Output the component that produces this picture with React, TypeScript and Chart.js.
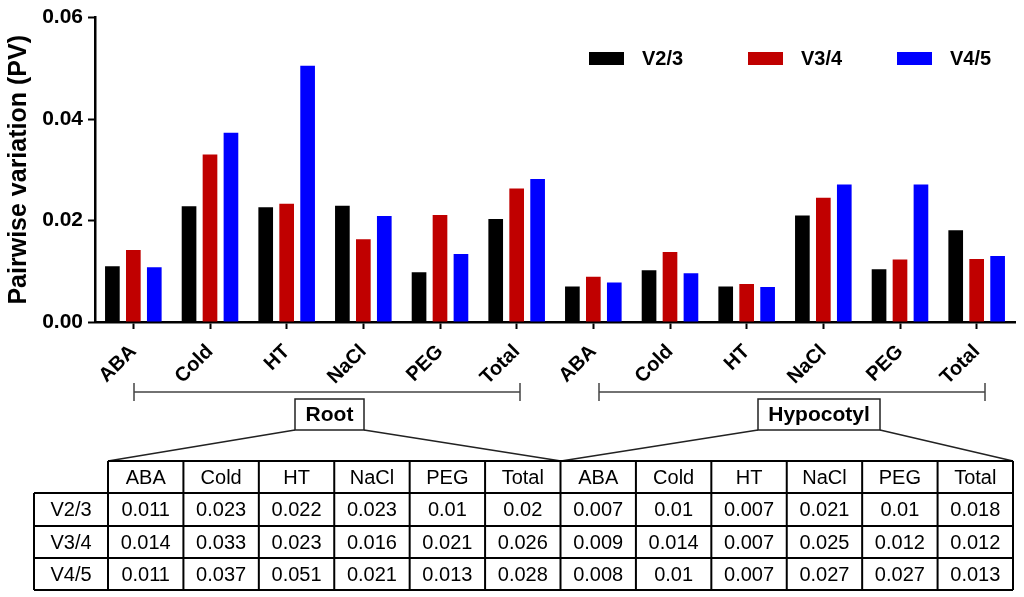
import React, { useEffect, useRef } from "react";
import { Chart, registerables } from "chart.js";

Chart.register(...registerables);

// chart data
const categories = ["ABA", "Cold", "HT", "NaCl", "PEG", "Total", "ABA", "Cold", "HT", "NaCl", "PEG", "Total"];
const seriesNames = ["V2/3", "V3/4", "V4/5"];
const v23 = [0.011, 0.0228, 0.0226, 0.0229, 0.0098, 0.0203, 0.007, 0.0102, 0.007, 0.021, 0.0104, 0.0181];
const v34 = [0.0142, 0.033, 0.0233, 0.0163, 0.0211, 0.0263, 0.0089, 0.0138, 0.0075, 0.0245, 0.0123, 0.0124];
const v45 = [0.0108, 0.0373, 0.0505, 0.0209, 0.0134, 0.0282, 0.0078, 0.0096, 0.0069, 0.0271, 0.0271, 0.013];
const yTicks = [0, 0.02, 0.04, 0.06];
const tissues = ["Root", "Hypocotyl"];

// table printed under the chart
const tableHeader = ["ABA", "Cold", "HT", "NaCl", "PEG", "Total", "ABA", "Cold", "HT", "NaCl", "PEG", "Total"];
const tableV23 = ["0.011", "0.023", "0.022", "0.023", "0.01", "0.02", "0.007", "0.01", "0.007", "0.021", "0.01", "0.018"];
const tableV34 = ["0.014", "0.033", "0.023", "0.016", "0.021", "0.026", "0.009", "0.014", "0.007", "0.025", "0.012", "0.012"];
const tableV45 = ["0.011", "0.037", "0.051", "0.021", "0.013", "0.028", "0.008", "0.01", "0.007", "0.027", "0.027", "0.013"];

const colors = ["#000000", "#c00000", "#0000ff"];
const FONT = "'Liberation Sans', Arial, sans-serif";

const extras = {
    id: "extras",
    afterDraw(chart: Chart) {
        const ctx = chart.ctx;
        ctx.save();

        // legend
        const legendX = [589, 748, 897];
        ctx.font = `bold 20px ${FONT}`;
        ctx.textBaseline = "middle";
        ctx.textAlign = "left";
        seriesNames.forEach((name, i) => {
            ctx.fillStyle = colors[i];
            ctx.fillRect(legendX[i], 52, 35, 13);
            ctx.fillStyle = "#000";
            ctx.fillText(name, legendX[i] + 53, 59);
        });

        // brackets under the axis
        const brackets = [
            [134, 520],
            [599, 985],
        ];
        ctx.strokeStyle = "#444";
        ctx.lineWidth = 1.5;
        brackets.forEach(([a, b]) => {
            ctx.beginPath();
            ctx.moveTo(a, 392);
            ctx.lineTo(b, 392);
            ctx.moveTo(a, 383);
            ctx.lineTo(a, 401);
            ctx.moveTo(b, 383);
            ctx.lineTo(b, 401);
            ctx.stroke();
        });

        // tissue boxes and the lines down to the table
        const boxes = [
            { x: 295, w: 69, to: [108, 561] },
            { x: 758, w: 122, to: [561, 1013] },
        ];
        ctx.strokeStyle = "#222";
        ctx.lineWidth = 1.5;
        ctx.font = `bold 21px ${FONT}`;
        ctx.textAlign = "center";
        boxes.forEach((b, i) => {
            ctx.strokeRect(b.x, 399, b.w, 31);
            ctx.fillStyle = "#000";
            ctx.fillText(tissues[i], b.x + b.w / 2, 415);
            ctx.beginPath();
            ctx.moveTo(b.x, 430);
            ctx.lineTo(b.to[0], 461);
            ctx.moveTo(b.x + b.w, 430);
            ctx.lineTo(b.to[1], 461);
            ctx.stroke();
        });

        // table
        const left = 34;
        const colStart = 108;
        const colW = (1013 - 108) / 12;
        const rowY = [461, 493, 526, 558, 590];
        const rows = [tableV23, tableV34, tableV45];
        ctx.strokeStyle = "#000";
        ctx.lineWidth = 2;
        ctx.beginPath();
        // horizontals
        ctx.moveTo(colStart, rowY[0]);
        ctx.lineTo(colStart + colW * 12, rowY[0]);
        for (let r = 1; r < rowY.length; r++) {
            ctx.moveTo(left, rowY[r]);
            ctx.lineTo(colStart + colW * 12, rowY[r]);
        }
        // verticals
        ctx.moveTo(left, rowY[1]);
        ctx.lineTo(left, rowY[4]);
        for (let c = 0; c <= 12; c++) {
            const x = colStart + colW * c;
            ctx.moveTo(x, rowY[0]);
            ctx.lineTo(x, rowY[4]);
        }
        ctx.stroke();

        ctx.font = `20px ${FONT}`;
        ctx.fillStyle = "#000";
        ctx.textAlign = "center";
        tableHeader.forEach((h, c) => {
            ctx.fillText(h, colStart + colW * (c + 0.5), (rowY[0] + rowY[1]) / 2 + 1);
        });
        rows.forEach((row, r) => {
            const cy = (rowY[r + 1] + rowY[r + 2]) / 2 + 1;
            ctx.fillText(seriesNames[r], (left + colStart) / 2, cy);
            row.forEach((v, c) => {
                ctx.fillText(v, colStart + colW * (c + 0.5), cy);
            });
        });

        ctx.restore();
    },
};

const PVChart: React.FC = () => {
    const canvasRef = useRef<HTMLCanvasElement | null>(null);
    const chartRef = useRef<Chart | null>(null);

    useEffect(() => {
        document.body.style.margin = "0";
        if (!canvasRef.current) return;
        const ctx = canvasRef.current.getContext("2d");
        if (!ctx) return;

        chartRef.current = new Chart(ctx, {
            type: "bar",
            data: {
                labels: categories,
                datasets: [v23, v34, v45].map((d, i) => ({
                    label: seriesNames[i],
                    data: d,
                    backgroundColor: colors[i],
                    borderWidth: 0,
                    categoryPercentage: 0.82,
                    barPercentage: 0.7,
                })),
            },
            options: {
                responsive: false,
                animation: false,
                layout: { padding: { top: 15, right: 9, left: 0, bottom: 0 } },
                plugins: {
                    legend: { display: false },
                    tooltip: { enabled: false },
                },
                scales: {
                    x: {
                        offset: true,
                        grid: {
                            offset: false,
                            drawOnChartArea: false,
                            tickLength: 7,
                            tickWidth: 2,
                            tickColor: "#000",
                        },
                        border: { color: "#000", width: 2.5 },
                        ticks: {
                            color: "#000",
                            font: { family: FONT, size: 20, weight: "bold" },
                            minRotation: 45,
                            maxRotation: 45,
                            padding: 11,
                            autoSkip: false,
                        },
                        afterFit: (scale: any) => {
                            scale.height = 275;
                        },
                    },
                    y: {
                        min: 0,
                        max: 0.06,
                        afterBuildTicks: (scale: any) => {
                            scale.ticks = yTicks.map((v) => ({ value: v }));
                        },
                        afterFit: (scale: any) => {
                            scale.width = 95;
                        },
                        grid: {
                            drawOnChartArea: false,
                            tickLength: 7,
                            tickWidth: 2,
                            tickColor: "#000",
                        },
                        border: { color: "#000", width: 2.5 },
                        ticks: {
                            color: "#000",
                            font: { family: FONT, size: 21, weight: "bold" },
                            padding: 5,
                            callback: (v: any) => Number(v).toFixed(2),
                        },
                        title: {
                            display: true,
                            text: "Pairwise variation (PV)",
                            color: "#000",
                            font: { family: FONT, size: 25, weight: "bold" },
                            padding: { top: 4, bottom: 0 },
                        },
                    },
                },
            },
            plugins: [extras],
        });

        return () => {
            if (chartRef.current) {
                chartRef.current.destroy();
                chartRef.current = null;
            }
        };
    }, []);

    return (
        <div style={{ width: 1024, height: 597, background: "#fff" }}>
            <canvas ref={canvasRef} width={1024} height={597}></canvas>
        </div>
    );
};

export default function App() {
    return <PVChart />;
}
